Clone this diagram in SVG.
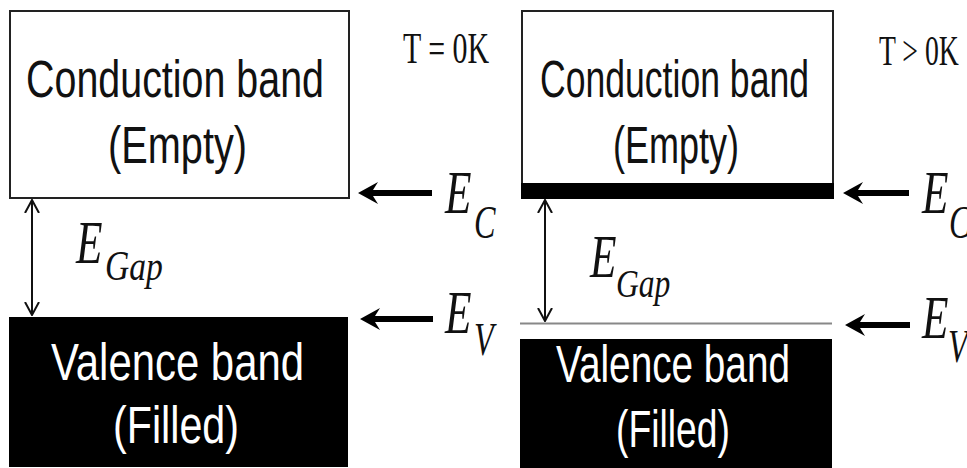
<svg xmlns="http://www.w3.org/2000/svg" width="967" height="468" viewBox="0 0 967 468">
<style>
.sans{font-family:"Liberation Sans",Arial,sans-serif;font-size:51px}
.blk{fill:#111}
.wht{fill:#fff}
.ser{font-family:"Liberation Serif","Times New Roman",serif;fill:#111}
.it{font-style:italic}
.box{fill:#fff;stroke:#222;stroke-width:2}
.gap{stroke:#111;stroke-width:2;fill:none}
</style>
<defs>
<marker id="open" viewBox="0 0 14 16" refX="13" refY="8" markerWidth="14" markerHeight="16" markerUnits="userSpaceOnUse" orient="auto-start-reverse">
<path d="M0,1 L13,8 L0,15" fill="none" stroke="#111" stroke-width="2"/>
</marker>
</defs>
<rect width="967" height="468" fill="#fff"/>

<g id="left-conduction">
<rect class="box" x="10" y="11" width="339" height="187"/>
<text class="sans blk" x="26" y="97" textLength="298" lengthAdjust="spacingAndGlyphs">Conduction band</text>
<text class="sans blk" x="108" y="163" textLength="139" lengthAdjust="spacingAndGlyphs">(Empty)</text>
</g>
<g id="left-valence">
<rect x="9" y="317" width="339" height="150" fill="#000"/>
<text class="sans wht" x="51" y="380" textLength="253" lengthAdjust="spacingAndGlyphs">Valence band</text>
<text class="sans wht" x="113" y="443" textLength="126" lengthAdjust="spacingAndGlyphs">(Filled)</text>
</g>
<g id="left-temp">
<text class="ser" font-size="44" transform="translate(403,63) scale(0.68,1)">T = 0K</text>
</g>
<g id="left-ec">
<text class="ser it" font-size="62" transform="translate(445,213) scale(0.7,1)">E</text>
<text class="ser it" font-size="46" transform="translate(474,238) scale(0.7,1)">C</text>
</g>
<g id="left-ev">
<text class="ser it" font-size="62" transform="translate(445,333) scale(0.7,1)">E</text>
<text class="ser it" font-size="46" transform="translate(474,355) scale(0.7,1)">V</text>
</g>
<g id="left-egap">
<text class="ser it" font-size="62" transform="translate(76,263) scale(0.7,1)">E</text>
<text class="ser it" font-size="42" transform="translate(105,280) scale(0.8,1)">Gap</text>
</g>

<g id="right-conduction">
<rect class="box" x="522" y="11" width="311" height="180"/>
<rect x="521" y="183" width="313" height="16" fill="#000"/>
<text class="sans blk" x="540" y="97" textLength="269" lengthAdjust="spacingAndGlyphs">Conduction band</text>
<text class="sans blk" x="613" y="163" textLength="126" lengthAdjust="spacingAndGlyphs">(Empty)</text>
</g>
<g id="right-valence">
<line x1="520" y1="323.5" x2="832" y2="323.5" stroke="#888" stroke-width="2"/>
<rect x="520" y="339" width="312" height="130" fill="#000"/>
<text class="sans wht" x="556" y="382" textLength="234" lengthAdjust="spacingAndGlyphs">Valence band</text>
<text class="sans wht" x="616" y="447" textLength="114" lengthAdjust="spacingAndGlyphs">(Filled)</text>
</g>
<g id="right-temp">
<text class="ser" font-size="42" transform="translate(879,65) scale(0.66,1)">T &gt; 0K</text>
</g>
<g id="right-ec">
<text class="ser it" font-size="62" transform="translate(922,213) scale(0.7,1)">E</text>
<text class="ser it" font-size="46" transform="translate(949,238) scale(0.7,1)">C</text>
</g>
<g id="right-ev">
<text class="ser it" font-size="62" transform="translate(922,338) scale(0.7,1)">E</text>
<text class="ser it" font-size="46" transform="translate(948,362) scale(0.7,1)">V</text>
</g>
<g id="right-egap">
<text class="ser it" font-size="62" transform="translate(590,277) scale(0.7,1)">E</text>
<text class="ser it" font-size="41" transform="translate(616,297) scale(0.77,1)">Gap</text>
</g>

<g id="connectors">
<path d="M358,193 L378,182 L373,190 L432,190 L432,196 L373,196 L378,204 Z" fill="#000"/>
<path d="M360,319 L380,308 L375,316 L433,316 L433,322 L375,322 L380,330 Z" fill="#000"/>
<path d="M843,193 L863,182 L858,190 L909,190 L909,196 L858,196 L863,204 Z" fill="#000"/>
<path d="M845,325 L865,314 L860,322 L910,322 L910,328 L860,328 L865,336 Z" fill="#000"/>
<line class="gap" x1="32" y1="200" x2="32" y2="315" marker-start="url(#open)" marker-end="url(#open)"/>
<line class="gap" x1="545" y1="200" x2="545" y2="321" marker-start="url(#open)" marker-end="url(#open)"/>
</g>
</svg>
